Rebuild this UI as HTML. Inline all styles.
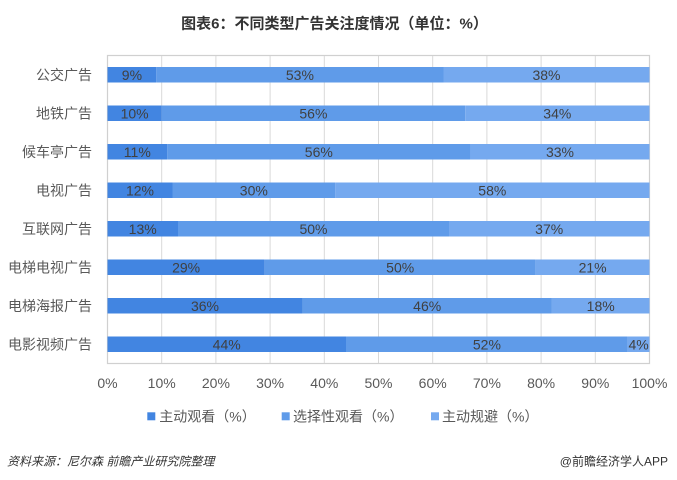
<!DOCTYPE html>
<html><head><meta charset="utf-8">
<style>
html,body{margin:0;padding:0;background:#fff;}
svg{display:block;}
text{font-family:"Liberation Sans","Noto Sans CJK SC",sans-serif;}
</style></head>
<body>
<svg width="677" height="480" viewBox="0 0 677 480" xmlns="http://www.w3.org/2000/svg">
<rect width="677" height="480" fill="#fff"/>
<text x="334.5" y="28.5" text-anchor="middle" font-size="15" font-weight="bold" fill="#333">图表6：不同类型广告关注度情况（单位：%）</text>

<!-- grid -->
<g stroke="#d9d9d9" stroke-width="1">
<line x1="161.7" y1="55.5" x2="161.7" y2="363.5"/>
<line x1="215.9" y1="55.5" x2="215.9" y2="363.5"/>
<line x1="270.1" y1="55.5" x2="270.1" y2="363.5"/>
<line x1="324.3" y1="55.5" x2="324.3" y2="363.5"/>
<line x1="378.5" y1="55.5" x2="378.5" y2="363.5"/>
<line x1="432.7" y1="55.5" x2="432.7" y2="363.5"/>
<line x1="486.9" y1="55.5" x2="486.9" y2="363.5"/>
<line x1="541.1" y1="55.5" x2="541.1" y2="363.5"/>
<line x1="595.3" y1="55.5" x2="595.3" y2="363.5"/>
</g>
<rect x="107.5" y="55.5" width="542" height="308" fill="none" stroke="#d0d0d0" stroke-width="1.2"/>

<!-- bars: x(p)=107.5+5.42p -->
<g>
<!-- 1 公交 9 53 38 ; center 74.75 -->
<rect x="107.5" y="67" width="48.8" height="15.5" fill="#4285e1"/>
<rect x="156.3" y="67" width="287.3" height="15.5" fill="#5f9be9"/>
<rect x="443.5" y="67" width="206" height="15.5" fill="#75a9ef"/>
<!-- 2 地铁 10 56 34 ; 113.25 -->
<rect x="107.5" y="105.5" width="54.2" height="15.5" fill="#4285e1"/>
<rect x="161.7" y="105.5" width="303.5" height="15.5" fill="#5f9be9"/>
<rect x="465.2" y="105.5" width="184.3" height="15.5" fill="#75a9ef"/>
<!-- 3 候车亭 11 56 33 ; 151.75 -->
<rect x="107.5" y="144" width="59.6" height="15.5" fill="#4285e1"/>
<rect x="167.1" y="144" width="303.5" height="15.5" fill="#5f9be9"/>
<rect x="470.6" y="144" width="178.9" height="15.5" fill="#75a9ef"/>
<!-- 4 电视 12 30 58 ; 190.25 -->
<rect x="107.5" y="182.5" width="65" height="15.5" fill="#4285e1"/>
<rect x="172.5" y="182.5" width="162.6" height="15.5" fill="#5f9be9"/>
<rect x="335.1" y="182.5" width="314.4" height="15.5" fill="#75a9ef"/>
<!-- 5 互联网 13 50 37 ; 228.75 -->
<rect x="107.5" y="221" width="70.5" height="15.5" fill="#4285e1"/>
<rect x="178" y="221" width="271" height="15.5" fill="#5f9be9"/>
<rect x="449" y="221" width="200.5" height="15.5" fill="#75a9ef"/>
<!-- 6 电梯电视 29 50 21 ; 267.25 -->
<rect x="107.5" y="259.5" width="157.2" height="15.5" fill="#4285e1"/>
<rect x="264.7" y="259.5" width="271" height="15.5" fill="#5f9be9"/>
<rect x="535.7" y="259.5" width="113.8" height="15.5" fill="#75a9ef"/>
<!-- 7 电梯海报 36 46 18 ; 305.75 -->
<rect x="107.5" y="298" width="195.1" height="15.5" fill="#4285e1"/>
<rect x="302.6" y="298" width="249.3" height="15.5" fill="#5f9be9"/>
<rect x="551.9" y="298" width="97.6" height="15.5" fill="#75a9ef"/>
<!-- 8 电影视频 44 52 4 ; 344.25 -->
<rect x="107.5" y="336.5" width="238.5" height="15.5" fill="#4285e1"/>
<rect x="346" y="336.5" width="281.8" height="15.5" fill="#5f9be9"/>
<rect x="627.8" y="336.5" width="21.7" height="15.5" fill="#75a9ef"/>
</g>

<!-- bar labels -->
<g font-size="14" fill="#404040" text-anchor="middle">
<text x="131.9" y="79.8">9%</text><text x="299.9" y="79.8">53%</text><text x="546.5" y="79.8">38%</text>
<text x="134.6" y="118.3">10%</text><text x="313.4" y="118.3">56%</text><text x="557.3" y="118.3">34%</text>
<text x="137.3" y="156.8">11%</text><text x="318.8" y="156.8">56%</text><text x="560" y="156.8">33%</text>
<text x="140" y="195.3">12%</text><text x="253.8" y="195.3">30%</text><text x="492.3" y="195.3">58%</text>
<text x="142.7" y="233.8">13%</text><text x="313.5" y="233.8">50%</text><text x="549.2" y="233.8">37%</text>
<text x="186.1" y="272.3">29%</text><text x="400.2" y="272.3">50%</text><text x="592.6" y="272.3">21%</text>
<text x="205" y="310.8">36%</text><text x="427.2" y="310.8">46%</text><text x="600.7" y="310.8">18%</text>
<text x="226.7" y="349.3">44%</text><text x="486.9" y="349.3">52%</text><text x="638.6" y="349.3">4%</text>
</g>

<!-- category labels -->
<g font-size="14" fill="#595959" text-anchor="end">
<text x="92" y="79.8">公交广告</text>
<text x="92" y="118.3">地铁广告</text>
<text x="92" y="156.8">候车亭广告</text>
<text x="92" y="195.3">电视广告</text>
<text x="92" y="233.8">互联网广告</text>
<text x="92" y="272.3">电梯电视广告</text>
<text x="92" y="310.8">电梯海报广告</text>
<text x="92" y="349.3">电影视频广告</text>
</g>

<!-- x axis labels -->
<g font-size="14" fill="#595959" text-anchor="middle">
<text x="107.5" y="388">0%</text>
<text x="161.7" y="388">10%</text>
<text x="215.9" y="388">20%</text>
<text x="270.1" y="388">30%</text>
<text x="324.3" y="388">40%</text>
<text x="378.5" y="388">50%</text>
<text x="432.7" y="388">60%</text>
<text x="486.9" y="388">70%</text>
<text x="541.1" y="388">80%</text>
<text x="595.3" y="388">90%</text>
<text x="649.5" y="388">100%</text>
</g>

<!-- legend -->
<rect x="147.3" y="412.3" width="8" height="8" fill="#4285e1"/>
<text x="159.3" y="421.5" font-size="14" fill="#595959">主动观看（%）</text>
<rect x="281.7" y="412.3" width="8" height="8" fill="#5f9be9"/>
<text x="293" y="421.5" font-size="14" fill="#595959">选择性观看（%）</text>
<rect x="431" y="412.3" width="8" height="8" fill="#75a9ef"/>
<text x="442" y="421.5" font-size="14" fill="#595959">主动规避（%）</text>

<!-- footer -->
<text x="7" y="465.5" font-size="12" font-style="italic" fill="#333">资料来源：尼尔森 前瞻产业研究院整理</text>
<text x="668" y="465.5" font-size="12" fill="#333" text-anchor="end">@前瞻经济学人APP</text>
</svg>
</body></html>
